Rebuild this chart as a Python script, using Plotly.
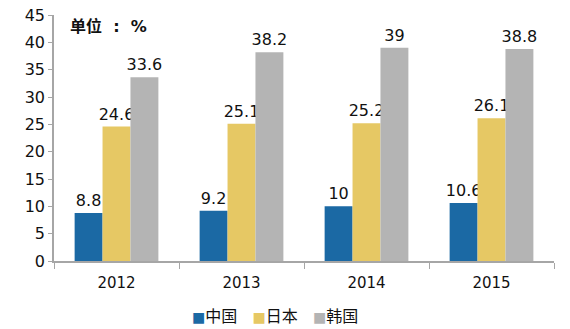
import plotly.graph_objects as go

years = ["2012", "2013", "2014", "2015"]
series_names = ["中国", "日本", "韩国"]
china = [8.8, 9.2, 10, 10.6]
japan = [24.6, 25.1, 25.2, 26.1]
korea = [33.6, 38.2, 39, 38.8]
colors = ["#1B69A4", "#E6C864", "#B4B4B4"]
y_ticks = [0, 5, 10, 15, 20, 25, 30, 35, 40, 45]

FONT = "DejaVu Sans, Noto Sans CJK SC, sans-serif"

fig = go.Figure()
for name, vals, col in zip(series_names, [china, japan, korea], colors):
    fig.add_trace(go.Bar(
        x=years, y=vals, name=name, marker_color=col, marker_line_width=0,
        text=[f"{v:g}" for v in vals], textposition="outside",
        textfont=dict(size=16, color="#111111", family=FONT),
        constraintext="none", textangle=0,
        cliponaxis=False, showlegend=False,
    ))

fig.update_layout(
    width=570, height=329,
    margin=dict(l=54, r=16, t=15, b=0, autoexpand=False),
    paper_bgcolor="white", plot_bgcolor="white",
    barmode="group", bargap=0.33, bargroupgap=0,
    font=dict(family=FONT, size=15, color="#111111"),
)
fig.update_xaxes(
    showline=True, linecolor="#A6A6A6", linewidth=1.5,
    ticks="outside", tickson="boundaries", ticklen=6, tickcolor="#A6A6A6",
    tickfont=dict(size=15, family=FONT), showgrid=False, ticklabelstandoff=7,
)
fig.update_yaxes(
    domain=[68 / 314, 1],
    range=[0, 45], tickvals=y_ticks, showline=True, linecolor="#A6A6A6", linewidth=1.5,
    ticks="outside", ticklen=4, tickcolor="#A6A6A6", showgrid=False, zeroline=False,
    tickfont=dict(size=16, family=FONT),
)
fig.add_annotation(
    x=0.028, y=1.0, xref="paper", yref="paper", xanchor="left", yanchor="top",
    text="<b>单位&nbsp;&nbsp;:&nbsp;&nbsp;%</b>", showarrow=False,
    font=dict(size=16, family=FONT, color="#111111"),
)
# legend built as text entries
legend_text = "&nbsp;&nbsp;&nbsp;".join(
    f"<span style='color:{c};font-size:14px'>■</span>{n}" for n, c in zip(series_names, colors)
)
fig.add_annotation(
    x=(274.5 - 54) / 500, y=(329 - 316) / 314, xref="paper", yref="paper",
    xanchor="center", yanchor="middle", text=legend_text, showarrow=False,
    font=dict(size=16, family=FONT, color="#111111"),
)
fig.write_html("out.html")
